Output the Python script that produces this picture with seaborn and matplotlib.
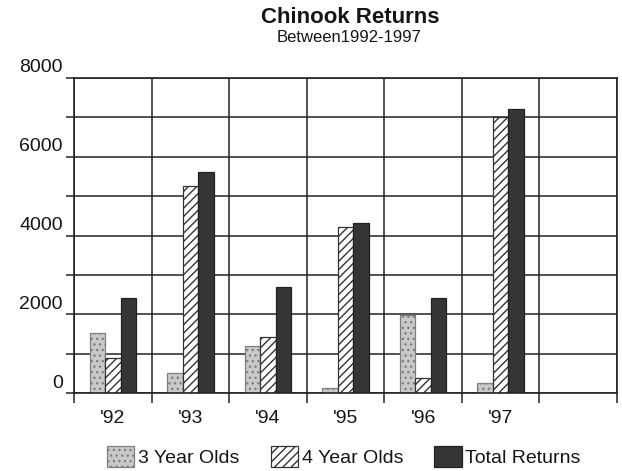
import numpy as np
import pandas as pd
import seaborn as sns
import matplotlib.pyplot as plt
from matplotlib.ticker import MultipleLocator, FixedLocator
from matplotlib.transforms import ScaledTranslation

# --- Data ---
years = ["'92", "'93", "'94", "'95", "'96", "'97"]
three_year = [1520, 510, 1190, 130, 1980, 250]
four_year = [890, 5250, 1420, 4210, 380, 7000]
total_returns = [2410, 5610, 2690, 4310, 2410, 7210]
series_names = ['3 Year Olds', '4 Year Olds', 'Total Returns']

df = pd.DataFrame({
    'year': years * 3,
    'series': np.repeat(series_names, len(years)),
    'returns': three_year + four_year + total_returns,
})

sns.set_style('white')
plt.rcParams['font.family'] = ['Liberation Sans', 'DejaVu Sans']
plt.rcParams['text.color'] = '#151515'
plt.rcParams['xtick.color'] = '#151515'
plt.rcParams['ytick.color'] = '#151515'

fig = plt.figure(figsize=(6.22, 4.71), dpi=100)
ax = fig.add_axes([0.119, 0.1656, 0.873, 0.6688])

palette = {'3 Year Olds': '#c9c9c9', '4 Year Olds': 'white', 'Total Returns': '#353535'}
sns.barplot(data=df, x='year', y='returns', hue='series', order=years,
            hue_order=series_names, palette=palette, width=0.6, gap=0,
            edgecolor='#222222', linewidth=0.9, saturation=1, legend=False, ax=ax)

# hatch patterns: stipple on 3 year olds, diagonal on 4 year olds
for cont, hatch, ec in zip(ax.containers, ['...', '////', None], ['#808080', '#333333', '#222222']):
    for p in cont.patches:
        if hatch:
            p.set_hatch(hatch)
        p.set_edgecolor(ec)

# --- Axes / grid ---
ax.set_xlim(-0.5, 6.5)
ax.set_ylim(0, 8000)
ax.set_xlabel('')
ax.set_ylabel('')

ax.yaxis.set_major_locator(MultipleLocator(2000))
ax.yaxis.set_minor_locator(MultipleLocator(1000))
ax.xaxis.set_minor_locator(FixedLocator(np.arange(-0.5, 7.0, 1.0)))
ax.grid(False)
ax.grid(which='both', axis='y', color='#222222', lw=1.1)
ax.grid(which='minor', axis='x', color='#222222', lw=1.1)
ax.set_axisbelow(True)

ax.tick_params(axis='y', which='both', direction='out', length=6, width=1.1,
               color='#222222', left=True, labelsize=14, pad=2)
ax.tick_params(axis='x', which='minor', direction='out', length=7, width=1.1,
               color='#222222', bottom=True)
ax.tick_params(axis='x', which='major', length=0, labelsize=14, pad=12)

for s in ax.spines.values():
    s.set_visible(True)
    s.set_color('#222222')
    s.set_linewidth(1.2)

# y labels in the scan sit above their grid lines
offset = ScaledTranslation(0, 0.12, fig.dpi_scale_trans)
for lab in ax.get_yticklabels():
    lab.set_transform(lab.get_transform() + offset)

# --- Titles ---
fig.text(0.563, 0.963, 'Chinook Returns', ha='center', va='center',
         fontsize=16, fontweight='bold')
fig.text(0.561, 0.921, 'Between1992-1997', ha='center', va='center',
         fontsize=12)

# --- Legend ---
fig.legend(handles=list(ax.containers), labels=series_names, loc='center',
           bbox_to_anchor=(0.553, 0.03), ncol=3, frameon=False, fontsize=14,
           handlelength=1.4, handleheight=1.3, handletextpad=0.2,
           columnspacing=1.6)

fig.savefig('out.png', dpi=100)
